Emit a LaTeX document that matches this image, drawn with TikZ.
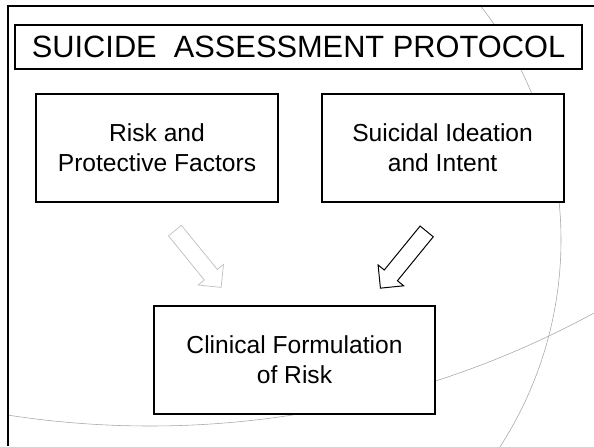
\documentclass[tikz,border=0pt]{standalone}
\usepackage{fontspec}
\setmainfont{Liberation Sans}
\usepackage{tikz}
\usetikzlibrary{shapes.arrows}

\begin{document}
\begin{tikzpicture}[node distance = 7.14cm,
    box/.style = {draw, fill=white, line width=1.3pt, align=center,
        inner sep=0pt, minimum width=6.05cm, minimum height=2.7cm,
        font=\fontsize{17.5}{21.5}\selectfont},
    blockarrow/.style = {single arrow, draw, fill=white, inner sep=0.2cm,
        single arrow head extend=0.2cm, minimum height=1.83cm},
    deco/.style = {gray!70, line width=0.4pt}]

\useasboundingbox (0,0) rectangle (14.85,11.15);

% background curves
\begin{scope}
\clip (0.2,0) rectangle (14.85,11.0);
\draw[deco] (4.5,5.15) ++(40:9.525) arc (40:-35:9.525);
\draw[deco] (3.75,23.725) ++(-100:23.225) arc (-100:-60:23.225);
\end{scope}

% frame
\draw[line width=1.3pt] (0.2,0) -- (0.2,11.0) -- (14.85,11.0);

\node[box, minimum width=14.175cm, minimum height=1.1cm,
    font=\fontsize{21.9}{26}\selectfont] (T) at (7.4625,9.975)
    {SUICIDE~ ASSESSMENT PROTOCOL};

\node[box] (R) at (3.925,7.45) {Risk and\\Protective Factors};
\node[box] (I) [right of = R] {Suicidal Ideation\\and Intent};
\node[box, minimum width=7.025cm] (F) at (7.3625,2.15)
    {Clinical Formulation\\of Risk};

\node[blockarrow, draw=gray!50, line width=0.5pt, rotate=-50.9] (a1) at (4.885,4.756) {};
\node[blockarrow, line width=0.7pt, rotate=230.8] (a2) at (10.156,4.7375) {};
\end{tikzpicture}
\end{document}
